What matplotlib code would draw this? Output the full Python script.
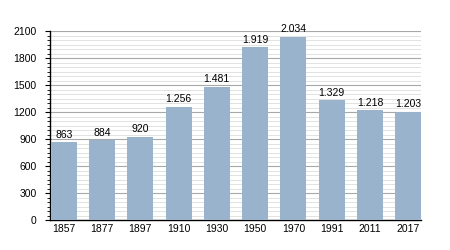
import matplotlib.pyplot as plt
from matplotlib.ticker import MultipleLocator

# data
years = ['1857', '1877', '1897', '1910', '1930', '1950', '1970', '1991', '2011', '2017']
population = [863, 884, 920, 1256, 1481, 1919, 2034, 1329, 1218, 1203]

plt.rcParams['font.family'] = ['Liberation Sans', 'DejaVu Sans']

fig = plt.figure(figsize=(4.5, 2.5), dpi=100)
ax = fig.add_axes([0.111, 0.12, 0.825, 0.756])

x = range(len(years))
ax.bar(x, population, width=0.68, color='#9ab3cd', zorder=3)

# value labels with dot as thousands separator
for i, v in enumerate(population):
    ax.text(i, v + 30, f"{v:,}".replace(',', '.'), ha='center', va='bottom',
            fontsize=7.5, zorder=4)

ax.set_xlim(-0.36, len(years) - 0.66)
ax.set_ylim(0, 2100)
ax.set_xticks(list(x))
ax.set_xticklabels(years)
ax.yaxis.set_major_locator(MultipleLocator(300))
ax.yaxis.set_minor_locator(MultipleLocator(50))

ax.grid(axis='y', which='major', color='#a8a8a8', linewidth=0.8, zorder=1)
ax.grid(axis='y', which='minor', color='#dddddd', linewidth=0.6, zorder=1)

for s in ['top', 'right']:
    ax.spines[s].set_visible(False)
ax.spines['left'].set_linewidth(1.0)
ax.spines['bottom'].set_linewidth(1.0)

ax.tick_params(axis='x', length=0, labelsize=7.5, pad=3)
ax.tick_params(axis='y', which='major', length=3.6, labelsize=7.5, pad=6)
ax.tick_params(axis='y', which='minor', length=2.2)

plt.savefig('out.png', dpi=100)
